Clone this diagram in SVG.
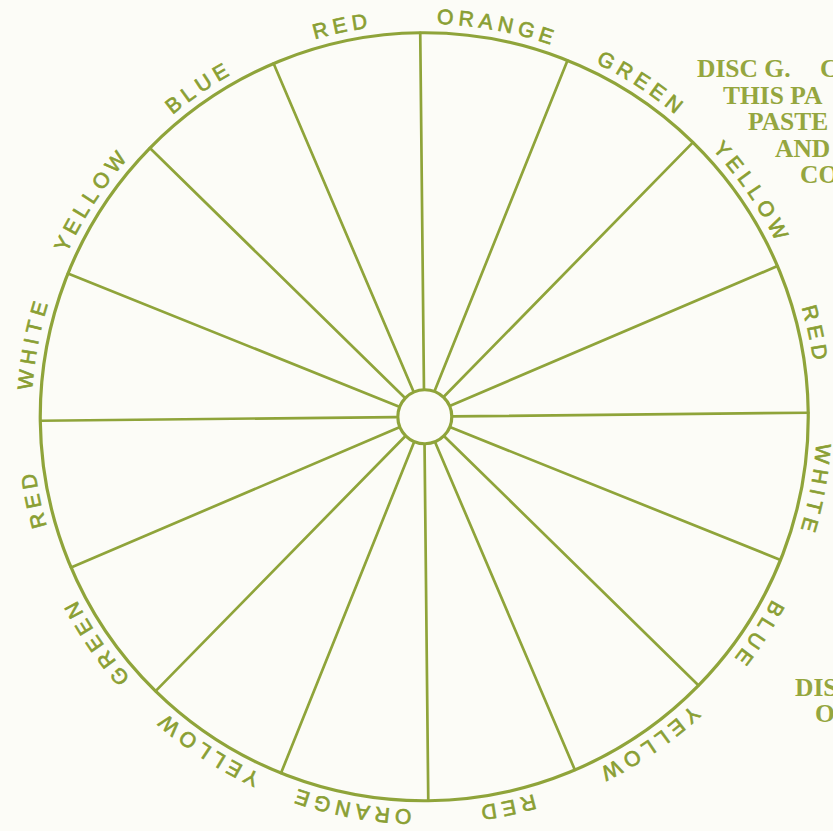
<svg xmlns="http://www.w3.org/2000/svg" xmlns:xlink="http://www.w3.org/1999/xlink" width="833" height="831" viewBox="0 0 833 831">
<style>
.ln{fill:none;stroke:#8fa43a;stroke-linecap:round}
.lbl{font-family:"Liberation Sans",Arial,sans-serif;font-size:21px;fill:#8a9f33;letter-spacing:5px;stroke:#8a9f33;stroke-width:0.7}
.hd{font-family:"Liberation Serif","Times New Roman",serif;font-size:25.5px;font-weight:bold;fill:#95a63f}
</style>
<defs>
<path id="ring" d="M 424.25 23.75 A 393 393 0 1 1 424.25 809.75 A 393 393 0 1 1 424.25 23.75"/>
<line id="spoke" class="ln" x1="424.25" y1="388.5" x2="424.25" y2="32.75" stroke-width="2.7"/>
</defs>
<rect width="833" height="831" fill="#fcfcf7"/>
<g id="disc" transform="rotate(-0.6 424.25 416.75)">
<circle id="rim" class="ln" cx="424.25" cy="416.75" r="384" stroke-width="3.2"/>
<g id="spokes">
<use xlink:href="#spoke"/>
<use xlink:href="#spoke" transform="rotate(22.5 424.25 416.75)"/>
<use xlink:href="#spoke" transform="rotate(45 424.25 416.75)"/>
<use xlink:href="#spoke" transform="rotate(67.5 424.25 416.75)"/>
<use xlink:href="#spoke" transform="rotate(90 424.25 416.75)"/>
<use xlink:href="#spoke" transform="rotate(112.5 424.25 416.75)"/>
<use xlink:href="#spoke" transform="rotate(135 424.25 416.75)"/>
<use xlink:href="#spoke" transform="rotate(157.5 424.25 416.75)"/>
<use xlink:href="#spoke" transform="rotate(180 424.25 416.75)"/>
<use xlink:href="#spoke" transform="rotate(202.5 424.25 416.75)"/>
<use xlink:href="#spoke" transform="rotate(225 424.25 416.75)"/>
<use xlink:href="#spoke" transform="rotate(247.5 424.25 416.75)"/>
<use xlink:href="#spoke" transform="rotate(270 424.25 416.75)"/>
<use xlink:href="#spoke" transform="rotate(292.5 424.25 416.75)"/>
<use xlink:href="#spoke" transform="rotate(315 424.25 416.75)"/>
<use xlink:href="#spoke" transform="rotate(337.5 424.25 416.75)"/>
</g>
<circle id="hub" class="ln" cx="424.8" cy="416.75" r="27" stroke-width="3.2" fill="#fcfcf7"/>
<g id="labels">
<text class="lbl" text-anchor="middle"><textPath xlink:href="#ring" startOffset="3.125%">ORANGE</textPath></text>
<text class="lbl" text-anchor="middle"><textPath xlink:href="#ring" startOffset="9.375%">GREEN</textPath></text>
<text class="lbl" text-anchor="middle"><textPath xlink:href="#ring" startOffset="15.625%">YELLOW</textPath></text>
<text class="lbl" text-anchor="middle"><textPath xlink:href="#ring" startOffset="21.875%">RED</textPath></text>
<text class="lbl" text-anchor="middle"><textPath xlink:href="#ring" startOffset="28.125%">WHITE</textPath></text>
<text class="lbl" text-anchor="middle"><textPath xlink:href="#ring" startOffset="34.375%">BLUE</textPath></text>
<text class="lbl" text-anchor="middle"><textPath xlink:href="#ring" startOffset="40.625%">YELLOW</textPath></text>
<text class="lbl" text-anchor="middle"><textPath xlink:href="#ring" startOffset="46.875%">RED</textPath></text>
<text class="lbl" text-anchor="middle"><textPath xlink:href="#ring" startOffset="53.125%">ORANGE</textPath></text>
<text class="lbl" text-anchor="middle"><textPath xlink:href="#ring" startOffset="59.375%">YELLOW</textPath></text>
<text class="lbl" text-anchor="middle"><textPath xlink:href="#ring" startOffset="65.625%">GREEN</textPath></text>
<text class="lbl" text-anchor="middle"><textPath xlink:href="#ring" startOffset="71.875%">RED</textPath></text>
<text class="lbl" text-anchor="middle"><textPath xlink:href="#ring" startOffset="78.125%">WHITE</textPath></text>
<text class="lbl" text-anchor="middle"><textPath xlink:href="#ring" startOffset="84.375%">YELLOW</textPath></text>
<text class="lbl" text-anchor="middle"><textPath xlink:href="#ring" startOffset="90.625%">BLUE</textPath></text>
<text class="lbl" text-anchor="middle"><textPath xlink:href="#ring" startOffset="96.875%">RED</textPath></text>
</g>
</g>
<g id="caption-top">
<text class="hd" x="697" y="77">DISC G.</text>
<text class="hd" x="820" y="77">C</text>
<text class="hd" x="723" y="104">THIS PA</text>
<text class="hd" x="748" y="130">PASTE</text>
<text class="hd" x="775" y="157">AND</text>
<text class="hd" x="800" y="183">CO</text>
</g>
<g id="caption-bottom">
<text class="hd" x="795" y="696">DIS</text>
<text class="hd" x="815" y="722">O</text>
</g>
</svg>
